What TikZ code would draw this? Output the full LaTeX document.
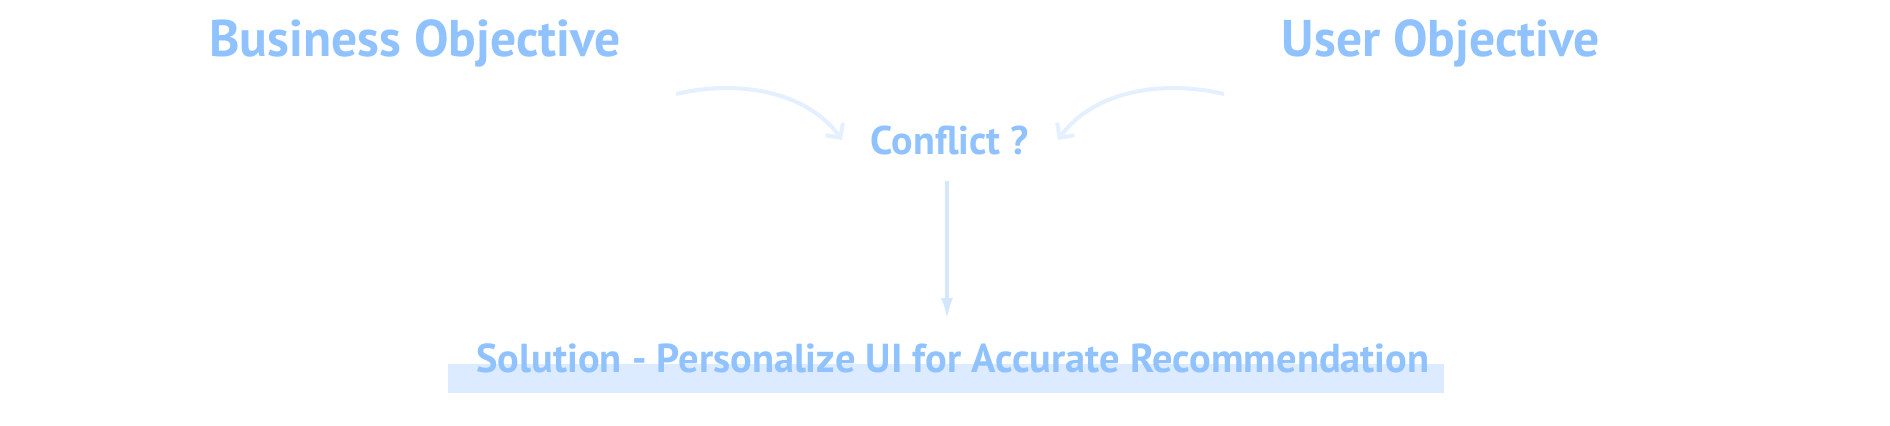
\documentclass[tikz,border=0pt]{standalone}
\usepackage{fontspec}
\setmainfont{PT Sans}
\usetikzlibrary{arrows.meta}
\definecolor{objblue}{RGB}{143,194,255}
\definecolor{curveblue}{RGB}{228,239,255}
\definecolor{downblue}{RGB}{212,231,255}
\definecolor{boxblue}{RGB}{220,235,255}
\tikzset{
	objtext/.style={font=\bfseries\fontsize{25.8}{28}\selectfont, text=objblue, inner sep=0pt, anchor=base},
	conftext/.style={font=\bfseries\fontsize{20}{22}\selectfont, text=objblue, inner sep=0pt, anchor=base},
	soltext/.style={font=\bfseries\fontsize{20.2}{22}\selectfont, text=objblue, inner sep=0pt, anchor=base},
	bendline/.style={line width=2pt, color=curveblue, -{Straight Barb[length=5.3pt, width=10.6pt, line join=miter]}},
	downline/.style={line width=2pt, color=downblue, -{Latex[length=11pt, width=6pt]}}
}

\begin{document}
\begin{tikzpicture}[x=0.5pt, y=-0.5pt]
			%%%%% START %%%%%
			\useasboundingbox (0, 0) rectangle (1890, 426);
			
			\fill[boxblue] (448, 364) rectangle (1444, 393);
			
			\node[objtext] (busobj) at (415, 57) {Business Objective};
			\node[objtext] (userobj) at (1441, 57) {User Objective};
			\node[conftext] (conf) at (950, 155) {Conflict ?};
			\node[soltext] (sol) at (953, 373) {Solution - Personalize UI for Accurate Recommendation};
			
			\coordinate (busfrom) at (676, 94);
			\coordinate (busto) at (842, 140);
			\coordinate (userfrom) at (1224, 94);
			\coordinate (userto) at (1058, 140);
			\coordinate (downfrom) at (947, 181);
			\coordinate (downto) at (947, 320);
			
			\draw[bendline] (busfrom) .. controls (745, 78) and (810, 95) .. (busto);
			\draw[bendline] (userfrom) .. controls (1155, 78) and (1090, 95) .. (userto);
			\draw[downline] (downfrom) -- (downto);
			
			%%%%% END %%%%%
		\end{tikzpicture}
\end{document}
